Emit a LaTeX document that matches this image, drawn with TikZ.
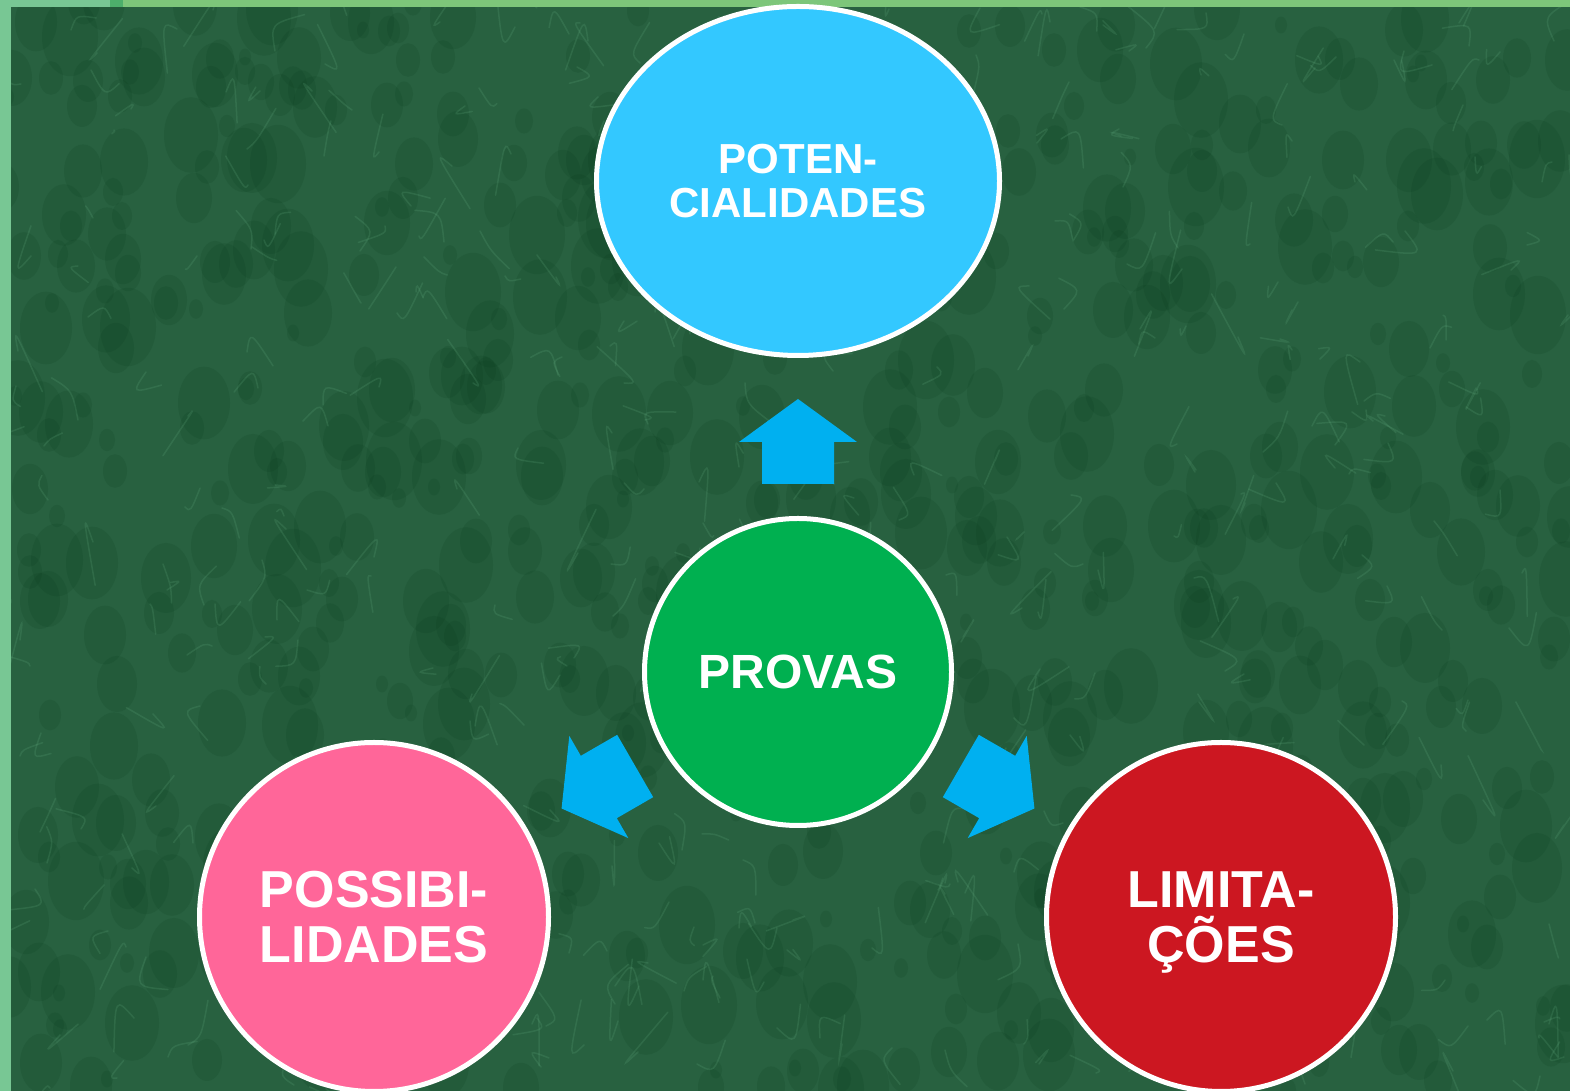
\documentclass[tikz,border=0pt]{standalone}
\usepackage{fontspec}
\setmainfont{Liberation Sans}
\usetikzlibrary{positioning,shapes}
\definecolor{marble}{HTML}{286140}
\definecolor{marbledark}{HTML}{0A3D1E}
\definecolor{marblevein}{HTML}{6AB386}
\definecolor{stripgreen}{HTML}{78C794}
\definecolor{stripdark}{HTML}{4DAF6B}
\definecolor{stripyellow}{HTML}{7DC67A}
\definecolor{potenblue}{HTML}{33C8FF}
\definecolor{arrowblue}{HTML}{00B0F0}
\definecolor{provasgreen}{HTML}{00B050}
\definecolor{possibpink}{HTML}{FF6699}
\definecolor{limitred}{HTML}{CC1721}
\tikzset {
    style A/.style={
        fill=provasgreen,
        draw=white,
        line width=5pt,
        text=white,
        circle, % Set the shape as a circle
        minimum size=307pt,
        inner sep=0pt,
        align=center,
        font=\bfseries\fontsize{48}{52}\selectfont,
    },
    style B/.style={
        fill=potenblue,
        draw=white,
        line width=5pt,
        text=white,
        ellipse, % Set the shape as an ellipse
        minimum width=403pt,
        minimum height=349pt,
        inner sep=0pt,
        align=center,
        font=\bfseries\fontsize{42}{44}\selectfont,
    },
    style C/.style={
        fill=possibpink,
        draw=white,
        line width=5pt,
        text=white,
        circle, % Set the shape as a circle
        minimum size=349pt,
        inner sep=0pt,
        align=center,
        font=\bfseries\fontsize{52}{55}\selectfont,
    },
    style D/.style={
        style C,
        fill=limitred,
    },
    style E/.style={
        fill=arrowblue,
    },
}
\begin{document}
\begin{tikzpicture}[x=1pt, y=1pt]
\useasboundingbox (0,0) rectangle (1570,1091);
\clip (0,0) rectangle (1570,1091);
% marble background
\fill[marble] (0,0) rectangle (1570,1091);
\pgfmathsetseed{11}
\foreach \i in {1,...,700}{
  \pgfmathsetmacro{\px}{random(0,1570)}
  \pgfmathsetmacro{\py}{random(0,1091)}
  \pgfmathsetmacro{\rr}{random(6,28)}
  \fill[marbledark, opacity=0.16] (\px,\py) ellipse ({\rr} and {1.4*\rr});
}
\foreach \i in {1,...,450}{
  \pgfmathsetmacro{\px}{random(0,1570)}
  \pgfmathsetmacro{\py}{random(0,1091)}
  \draw[marblevein, opacity=0.18, line width=1.5pt, line cap=round]
    (\px,\py) .. controls ++(rand*20, rand*30) .. ++(rand*30, rand*45);
}
\fill[stripgreen] (0,0) rectangle (11,1091);
\fill[stripgreen] (11,1084) rectangle (110,1091);
\fill[stripdark] (110,1084) rectangle (123,1091);
\fill[stripyellow] (123,1084) rectangle (1570,1091);

\node[style A] at (798,419) (provas) {PROVAS};
\node[style B] at (798,910) (poten) {POTEN-\\CIALIDADES};
\node[style C] at (374,174) (possib) {POSSIBI-\\LIDADES};
\node[style D] at (1221,174) (limit) {LIMITA-\\\smash{Ç}ÕES};

\foreach \ang in {0,120,240}
  \fill[style E, shift={(provas.center)}, rotate=\ang] (-36,188) -- (36,188) -- (36,230) -- (59,230) -- (0,273) -- (-59,230) -- (-36,230) -- cycle;
\end{tikzpicture}
\end{document}
